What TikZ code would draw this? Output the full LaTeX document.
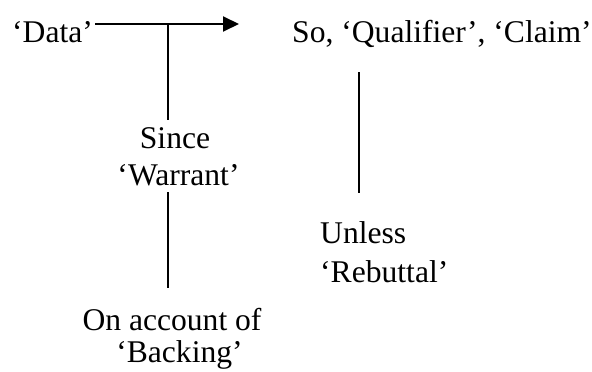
\documentclass[tikz,border=0pt]{standalone}
\usepackage{fontspec}
\setmainfont{Liberation Serif}
\usetikzlibrary{arrows.meta}
\begin{document}
\begin{tikzpicture}[x=1pt,y=-1pt,
  lbl/.style={inner sep=0pt,font=\fontsize{31.6}{36}\selectfont},
  thickline/.style={line width=2pt},
  thinline/.style={line width=1.5pt}]
\useasboundingbox (0,0) rectangle (592,372);
\node[lbl,anchor=base west] (data) at (12,42) {‘Data’};
\node[lbl,anchor=base west] (claim) at (292,42) {So, ‘Qualifier’, ‘Claim’};
\node[lbl,anchor=base] (since) at (175,148) {Since};
\node[lbl,anchor=base] (warrant) at (178.5,185) {‘Warrant’};
\node[lbl,anchor=base] (onacc) at (172,330) {On account of};
\node[lbl,anchor=base] (backing) at (179.5,362) {‘Backing’};
\node[lbl,anchor=base west] (unless) at (320,243) {Unless};
\node[lbl,anchor=base west] (rebuttal) at (320,282) {‘Rebuttal’};
\coordinate (a0) at (95,24);
\coordinate (a1) at (239,24);
\coordinate (j) at (168,24);
\coordinate (s0) at (168,120);
\coordinate (w0) at (168,192);
\coordinate (b0) at (168,288);
\coordinate (q0) at (359,72);
\coordinate (q1) at (359,193);
\draw[thickline,-{Triangle[length=16pt,width=15pt]}] (a0) -- (a1);
\draw[thinline] (j) -- (s0);
\draw[thinline] (w0) -- (b0);
\draw[thinline] (q0) -- (q1);
\end{tikzpicture}
\end{document}
